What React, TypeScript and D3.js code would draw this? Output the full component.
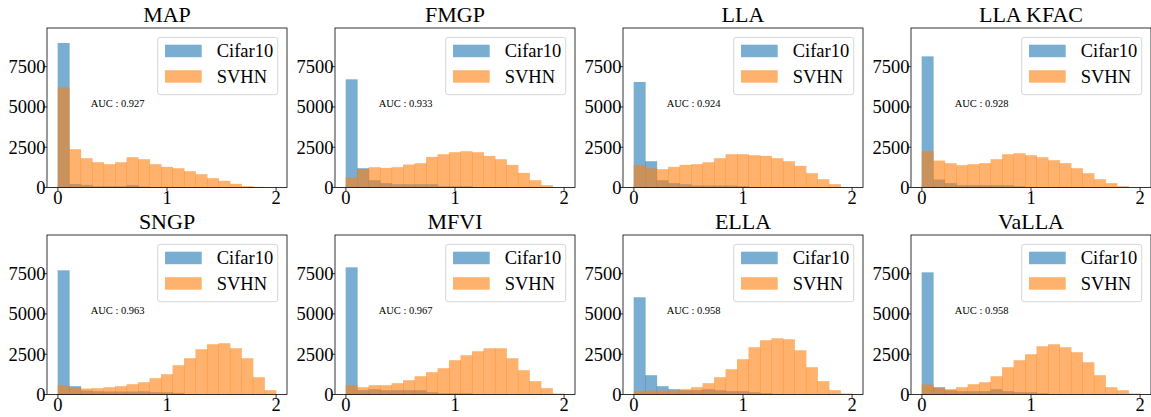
import React from 'react';
import * as d3 from 'd3';

// 19 equal bins over [0, 2]
const binEdges = d3.range(20).map(i => (i * 2) / 19);

const titles = ['MAP', 'FMGP', 'LLA', 'LLA KFAC', 'SNGP', 'MFVI', 'ELLA', 'VaLLA'];
const aucs = ['0.927', '0.933', '0.924', '0.928', '0.963', '0.967', '0.958', '0.958'];

const cifarMAP = [8970, 220, 160, 80, 80, 80, 150, 60, 30, 20, 10, 5, 0, 0, 0, 0, 0, 0, 0];
const svhnMAP = [6200, 2376, 1818, 1570, 1446, 1570, 1880, 1756, 1446, 1281, 1198, 1012, 826, 578, 413, 227, 83, 40, 0];
const cifarFMGP = [6715, 1198, 455, 270, 200, 200, 200, 200, 80, 80, 80, 10, 0, 0, 0, 0, 0, 0, 0];
const svhnFMGP = [620, 1136, 1260, 1219, 1260, 1425, 1508, 1900, 2066, 2190, 2252, 2190, 1963, 1756, 1405, 909, 455, 145, 10];
const cifarLLA = [6550, 1632, 455, 270, 200, 124, 124, 124, 124, 80, 10, 0, 0, 0, 0, 0, 0, 0, 0];
const svhnLLA = [1384, 1198, 1136, 1281, 1405, 1446, 1570, 1818, 2066, 2066, 2004, 1963, 1818, 1632, 1343, 888, 516, 207, 0];
const cifarKFAC = [8140, 496, 270, 145, 145, 145, 145, 145, 80, 20, 0, 0, 0, 0, 0, 0, 0, 0, 0];
const svhnKFAC = [2252, 1673, 1508, 1384, 1446, 1508, 1756, 2066, 2128, 2004, 1880, 1694, 1508, 1198, 888, 516, 270, 83, 0];
const cifarSNGP = [7707, 516, 248, 200, 186, 186, 186, 200, 145, 145, 100, 20, 0, 0, 0, 0, 0, 0, 0];
const svhnSNGP = [578, 454, 372, 392, 454, 516, 640, 764, 1012, 1260, 1818, 2252, 2810, 3120, 3182, 2872, 2252, 1074, 268];
const cifarMFVI = [7893, 268, 330, 268, 268, 268, 268, 145, 80, 80, 80, 10, 0, 0, 0, 0, 0, 0, 0];
const svhnMFVI = [578, 454, 578, 578, 702, 888, 1136, 1384, 1632, 2128, 2438, 2686, 2872, 2872, 2252, 1508, 826, 392, 60];
const cifarELLA = [6033, 1198, 516, 330, 268, 268, 330, 268, 206, 206, 145, 80, 10, 0, 0, 0, 0, 0, 0];
const svhnELLA = [206, 248, 248, 248, 330, 454, 702, 1074, 1570, 2190, 2934, 3368, 3492, 3430, 2748, 1694, 826, 268, 60];
const cifarVaLLA = [7582, 454, 268, 206, 206, 206, 330, 206, 145, 145, 80, 10, 0, 0, 0, 0, 0, 0, 0];
const svhnVaLLA = [620, 392, 330, 454, 640, 764, 1136, 1694, 2128, 2500, 2996, 3120, 2934, 2624, 2004, 1198, 454, 268, 60];

const cifarCounts = [cifarMAP, cifarFMGP, cifarLLA, cifarKFAC, cifarSNGP, cifarMFVI, cifarELLA, cifarVaLLA];
const svhnCounts = [svhnMAP, svhnFMGP, svhnLLA, svhnKFAC, svhnSNGP, svhnMFVI, svhnELLA, svhnVaLLA];

const xTicks = [0, 1, 2];
const yTicks = [0, 2500, 5000, 7500];
const seriesNames = ['Cifar10', 'SVHN'];
const colors = ['#1f77b4', '#ff7f0e'];

const W = 1151;
const H = 417;
const colLeft = [47, 335, 623, 911];
const rowTop = [28, 235];
const pw = 240;
const ph = 159.5;
const font = "'Liberation Serif', 'DejaVu Serif', serif";

function Panel({ idx }: { idx: number }) {
  const left = colLeft[idx % 4];
  const top = rowTop[Math.floor(idx / 4)];
  const x = d3.scaleLinear().domain([-0.1, 2.1]).range([0, pw]);
  const y = d3.scaleLinear().domain([0, 9900]).range([ph, 0]);
  const series = [cifarCounts[idx], svhnCounts[idx]];

  return (
    <g transform={`translate(${left},${top})`}>
      <text x={pw / 2} y={-6} textAnchor="middle" fontSize={22} fontFamily={font}>{titles[idx]}</text>
      {series.map((counts, s) => (
        <g key={s}>
          {counts.map((c, i) => c > 0 && (
            // slight overlap so seams between bars come out darker, like the original
            <rect key={i} x={x(binEdges[i]) - 0.25} width={x(binEdges[i + 1]) - x(binEdges[i]) + 0.5}
              y={y(c)} height={y(0) - y(c)} fill={colors[s]} fillOpacity={0.6} />
          ))}
        </g>
      ))}
      <text x={x(0.3)} y={y(5000)} fontSize={10.5} fontFamily={font}>{`AUC : ${aucs[idx]}`}</text>
      {/* legend */}
      <g transform={`translate(${pw - 9.3 - 120},9.4)`}>
        <rect x={0} y={0} width={120} height={57.3} rx={2.5} fill="white" fillOpacity={0.8} stroke="#cccccc" strokeWidth={0.8} />
        {seriesNames.map((n, s) => (
          <g key={n} transform={`translate(0,${7.3 + s * 25.5})`}>
            <rect x={7.3} y={0} width={36.7} height={12.5} fill={colors[s]} fillOpacity={0.6} />
            <text x={59} y={6.25} dy="0.35em" fontSize={18.5} fontFamily={font}>{n}</text>
          </g>
        ))}
      </g>
      <rect x={0} y={0} width={pw} height={ph} fill="none" stroke="black" strokeWidth={0.8} />
      {xTicks.map(t => (
        <g key={t} transform={`translate(${x(t)},${ph})`}>
          <line y2={3.5} stroke="black" strokeWidth={0.8} />
          <text y={16} textAnchor="middle" fontSize={18.5} fontFamily={font}>{t}</text>
        </g>
      ))}
      {yTicks.map(t => (
        <g key={t} transform={`translate(0,${y(t)})`}>
          <line x2={-3.5} stroke="black" strokeWidth={0.8} />
          <text x={-1.5} dy="0.35em" textAnchor="end" fontSize={18.5} fontFamily={font}>{t}</text>
        </g>
      ))}
    </g>
  );
}

export default function App() {
  return (
    <svg width={W} height={H} style={{ position: 'absolute', left: 0, top: 0, background: 'white' }}>
      {titles.map((_, i) => <Panel key={i} idx={i} />)}
    </svg>
  );
}
